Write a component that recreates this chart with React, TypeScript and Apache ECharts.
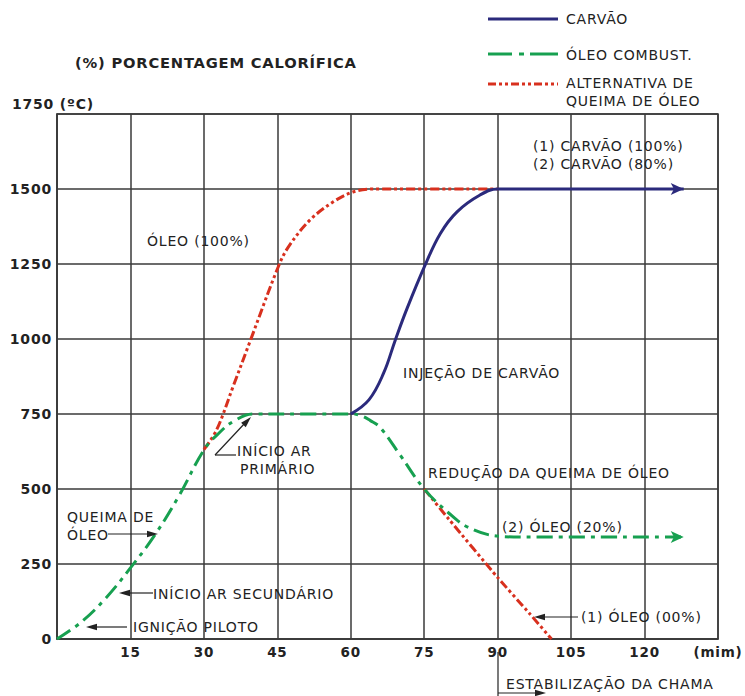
import React, { useEffect, useRef } from "react";
import * as echarts from "echarts";

// ---- axes ----
const xMin = 0;
const xMax = 135;
const xStep = 15;
const yMin = 0;
const yMax = 1750;
const yStep = 250;

// ---- series (time in min, temperature in ºC) ----
const carvaoX = [60, 63.7, 66.7, 69.1, 71.5, 75.2, 78.3, 81.7, 86.4, 90, 128];
const carvaoY = [750, 797, 886, 997, 1102, 1247, 1352, 1424, 1480, 1500, 1500];

const oleoX = [0, 5, 10, 15, 20, 25, 30, 33, 36, 40, 50, 60, 62, 64, 66, 70, 75, 80, 84, 90, 95, 128];
const oleoY = [0, 57, 137, 237, 347, 480, 630, 685, 725, 750, 750, 750, 745, 728, 705, 615, 500, 420, 372, 343, 340, 340];

const altRiseX = [30, 32.6, 36, 39.4, 45.2, 47.3, 51.7, 56.5, 60.6, 64.6, 90];
const altRiseY = [631, 697, 843, 991, 1241, 1308, 1397, 1458, 1491, 1500, 1500];

const altFallX = [75, 80, 90, 96.5, 101];
const altFallY = [500, 400, 205, 85, 0];

// ---- texts ----
const yAxisTitle = "1750 (ºC)";
const xAxisUnit = "(mim)";
const chartSubtitle = "(%) PORCENTAGEM CALORÍFICA";
const legendNames = ["CARVÃO", "ÓLEO COMBUST.", "ALTERNATIVA DE", "QUEIMA DE ÓLEO"];

const BLUE = "#2b2a7c";
const GREEN = "#17a050";
const RED = "#d8301e";
const INK = "#222";
const GRIDC = "#3a3a3a";
const FF = '"DejaVu Sans"';

function zip(xs: number[], ys: number[]) {
  return xs.map((x, i) => [x, ys[i]]);
}

function withArrow(xs: number[], ys: number[], color: string) {
  const d: any[] = zip(xs, ys);
  const last = d.length - 1;
  d[last] = {
    value: d[last],
    symbol: "arrow",
    symbolSize: [9, 13],
    symbolRotate: -90,
    itemStyle: { color },
  };
  return d;
}

function head(tx: number, ty: number, ang: number, len = 11, half = 3.2) {
  const c = Math.cos(ang), s = Math.sin(ang);
  const bx = tx - len * c, by = ty - len * s;
  return {
    type: "polygon",
    shape: { points: [[tx, ty], [bx - half * s, by + half * c], [bx + half * s, by - half * c]] },
    style: { fill: INK },
    z: 100,
  };
}

function seg(x1: number, y1: number, x2: number, y2: number, stroke = INK, lineWidth = 1.2, lineDash?: number[]) {
  return {
    type: "line",
    shape: { x1, y1, x2, y2 },
    style: { stroke, lineWidth, lineDash },
    z: 100,
  };
}

function txt(text: string, x: number, y: number, font = `14px ${FF}`) {
  return {
    type: "text",
    x,
    y,
    style: { text, fill: INK, font, textVerticalAlign: "middle", textAlign: "left" },
    z: 100,
  };
}

export default function App() {
  const ref = useRef<HTMLDivElement>(null);

  useEffect(() => {
    if (!ref.current) return;
    const chart = echarts.init(ref.current, undefined, { renderer: "svg" });

    const graphic: any[] = [
      // subtitle & y title
      txt(chartSubtitle, 75, 62, `bold 14.7px ${FF}`),
      txt(yAxisTitle, 12, 104, `bold 14px ${FF}`),
      // legend
      seg(488, 19, 558, 19, BLUE, 3),
      seg(488, 54, 512, 54, GREEN, 3),
      seg(519, 54, 524, 54, GREEN, 3),
      seg(530, 54, 558, 54, GREEN, 3),
      seg(488, 84, 558, 84, RED, 3, [8, 3, 3, 3, 3, 3]),
      txt(legendNames[0], 566, 19),
      txt(legendNames[1], 566, 55),
      txt(legendNames[2], 566, 83),
      txt(legendNames[3], 566, 101),
      // annotations
      txt("(1) CARVÃO (100%)", 533, 146),
      txt("(2) CARVÃO (80%)", 533, 164),
      txt("ÓLEO (100%)", 147, 241),
      txt("INJEÇÃO DE CARVÃO", 403, 373),
      txt("INÍCIO AR", 237, 451),
      txt("PRIMÁRIO", 240, 469),
      seg(215, 455, 236, 455),
      seg(215, 455, 246, 422),
      head(251, 417, Math.atan2(-37, 35)),
      txt("QUEIMA DE", 67, 517),
      txt("ÓLEO", 67, 535),
      seg(108, 534, 148, 534),
      head(158, 534, 0),
      txt("INÍCIO AR SECUNDÁRIO", 153, 594),
      seg(130, 593, 153, 593),
      head(119, 593, Math.PI),
      txt("IGNIÇÃO PILOTO", 133, 627),
      seg(96, 627, 127, 627),
      head(86, 627, Math.PI),
      txt("REDUÇÃO DA QUEIMA DE ÓLEO", 428, 473),
      txt("(2) ÓLEO (20%)", 502, 527),
      txt("(1) ÓLEO (00%)", 581, 617),
      seg(545, 617, 578, 617),
      head(534, 617, Math.PI),
      txt("ESTABILIZAÇÃO DA CHAMA", 506, 684),
      seg(498, 652, 498, 696),
      seg(498, 693, 535, 693),
      head(546, 693, 0),
    ];

    chart.setOption({
      animation: false,
      backgroundColor: "#ffffff",
      grid: {
        left: 57,
        right: 27,
        top: 114,
        bottom: 57,
        show: true,
        borderColor: GRIDC,
        borderWidth: 1.5,
      },
      xAxis: {
        type: "value",
        min: xMin,
        max: xMax,
        interval: xStep,
        axisLine: { show: true, lineStyle: { color: GRIDC, width: 1.5 } },
        axisTick: { show: false },
        splitLine: { show: true, lineStyle: { color: GRIDC, width: 1.5 } },
        axisLabel: {
          margin: 6,
          color: INK,
          fontWeight: "bold",
          fontSize: 13.5,
          fontFamily: "DejaVu Sans",
          showMinLabel: true,
          showMaxLabel: true,
          formatter: (v: number) => (v === xMin ? "" : v === xMax ? xAxisUnit : String(v)),
        },
      },
      yAxis: {
        type: "value",
        min: yMin,
        max: yMax,
        interval: yStep,
        axisLine: { show: true, lineStyle: { color: GRIDC, width: 1.5 } },
        axisTick: { show: false },
        splitLine: { show: true, lineStyle: { color: GRIDC, width: 1.5 } },
        axisLabel: {
          margin: 5,
          color: INK,
          fontWeight: "bold",
          fontSize: 14,
          fontFamily: "DejaVu Sans",
          formatter: (v: number) => (v === yMax ? "" : String(v)),
        },
      },
      series: [
        {
          name: "ALTERNATIVA DE QUEIMA DE ÓLEO",
          type: "line",
          data: zip(altRiseX, altRiseY),
          smooth: 0.35,
          symbol: "none",
          lineStyle: { color: RED, width: 3, type: [9, 3, 3, 3, 3, 3] },
          z: 2,
        },
        {
          name: "ALTERNATIVA DE QUEIMA DE ÓLEO (1)",
          type: "line",
          data: zip(altFallX, altFallY),
          smooth: 0.2,
          symbol: "none",
          lineStyle: { color: RED, width: 3, type: [9, 3, 3, 3, 3, 3] },
          z: 2,
        },
        {
          name: "ÓLEO COMBUST.",
          type: "line",
          data: withArrow(oleoX, oleoY, GREEN),
          smooth: 0.4,
          symbol: "none",
          showSymbol: true,
          lineStyle: { color: GREEN, width: 3, type: [16, 6, 4, 6] },
          itemStyle: { color: GREEN },
          z: 3,
        },
        {
          name: "CARVÃO",
          type: "line",
          data: withArrow(carvaoX, carvaoY, BLUE),
          smooth: 0.4,
          symbol: "none",
          showSymbol: true,
          lineStyle: { color: BLUE, width: 3 },
          itemStyle: { color: BLUE },
          z: 4,
        },
      ],
      graphic,
    });

    return () => chart.dispose();
  }, []);

  return (
    <>
      <style>{`#root svg text { letter-spacing: 0.8px; }`}</style>
      <div
        ref={ref}
        style={{ position: "absolute", left: 0, top: 0, width: 745, height: 696, background: "#fff" }}
      />
    </>
  );
}
